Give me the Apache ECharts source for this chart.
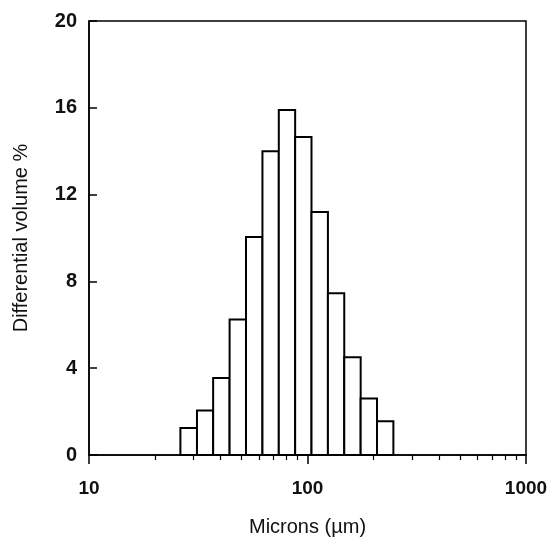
<!DOCTYPE html>
<html>
<head>
<meta charset="utf-8">
<style>
  html, body { margin: 0; padding: 0; background: #fff; }
  #chart { width: 552px; height: 542px; }
</style>
<script src="https://cdn.jsdelivr.net/npm/echarts@6/dist/echarts.min.js"></script>
</head>
<body>
<div id="chart"></div>
<script>
// bin edges (microns)
const binLower = [26.2, 31.2, 37.0, 44.0, 52.3, 62.2, 73.9, 87.8, 104.3, 124.0, 147.3, 175.1, 208.0];
const binUpper = [31.2, 37.0, 44.0, 52.3, 62.2, 73.9, 87.8, 104.3, 124.0, 147.3, 175.1, 208.0, 247.2];
const volumePct = [1.25, 2.05, 3.55, 6.25, 10.05, 14.0, 15.9, 14.65, 11.2, 7.45, 4.5, 2.6, 1.55];

const minorTicks = [20, 30, 40, 50, 60, 70, 80, 90, 200, 300, 400, 500, 600, 700, 800, 900];
const yTicks = { min: 0, max: 20, interval: 4 };

const FONT = '"Liberation Sans", Arial, Helvetica, sans-serif';

const data = volumePct.map((v, i) => [binLower[i], binUpper[i], v]);

const chart = echarts.init(document.getElementById('chart'));

const option = {
  animation: false,
  textStyle: { fontFamily: FONT, color: '#000' },
  grid: {
    left: 89,
    right: 26,
    top: 21,
    bottom: 85,
    show: true,
    borderColor: '#000',
    borderWidth: 1.5,
    backgroundColor: 'transparent',
  },
  xAxis: [
    {
      type: 'log',
      logBase: 10,
      min: 10,
      max: 1000,
      interval: 1,
      name: 'Microns (µm)',
      nameLocation: 'middle',
      nameGap: 62,
      nameTextStyle: { fontSize: 20, color: '#111', fontFamily: FONT },
      axisLine: { show: true, lineStyle: { color: '#000', width: 1.5 } },
      axisTick: { show: true, inside: false, length: 9, lineStyle: { color: '#000', width: 1.5 } },
      axisLabel: {
        fontSize: 19,
        fontWeight: 'bold',
        color: '#111',
        margin: 24,
        fontFamily: FONT,
        formatter: v => String(Math.round(v)),
      },
      splitLine: { show: false },
      minorTick: { show: false },
    },
    {
      type: 'log',
      logBase: 10,
      min: 10,
      max: 1000,
      position: 'bottom',
      axisLine: { show: false },
      axisLabel: { show: false },
      splitLine: { show: false },
      axisTick: {
        show: true,
        inside: false,
        length: 5,
        customValues: minorTicks,
        lineStyle: { color: '#000', width: 1.2 },
      },
    },
  ],
  yAxis: {
    type: 'value',
    min: yTicks.min,
    max: yTicks.max,
    interval: yTicks.interval,
    name: 'Differential volume %',
    nameLocation: 'middle',
    nameGap: 58,
    nameRotate: 90,
    nameTextStyle: { fontSize: 20, color: '#111', fontFamily: FONT },
    axisLine: { show: true, lineStyle: { color: '#000', width: 1.5 } },
    axisTick: { show: true, inside: true, length: 8, lineStyle: { color: '#000', width: 1.5 } },
    axisLabel: { fontSize: 20, fontWeight: 'bold', color: '#111', margin: 12, fontFamily: FONT },
    splitLine: { show: false },
  },
  series: [
    {
      type: 'custom',
      xAxisIndex: 0,
      yAxisIndex: 0,
      encode: { x: [0, 1], y: 2 },
      data: data,
      renderItem: (params, api) => {
        const topLeft = api.coord([api.value(0), api.value(2)]);
        const bottomRight = api.coord([api.value(1), 0]);
        return {
          type: 'rect',
          shape: {
            x: topLeft[0],
            y: topLeft[1],
            width: bottomRight[0] - topLeft[0],
            height: bottomRight[1] - topLeft[1],
          },
          style: { fill: '#fff', stroke: '#000', lineWidth: 2 },
        };
      },
    },
  ],
};

chart.setOption(option);
</script>
</body>
</html>
